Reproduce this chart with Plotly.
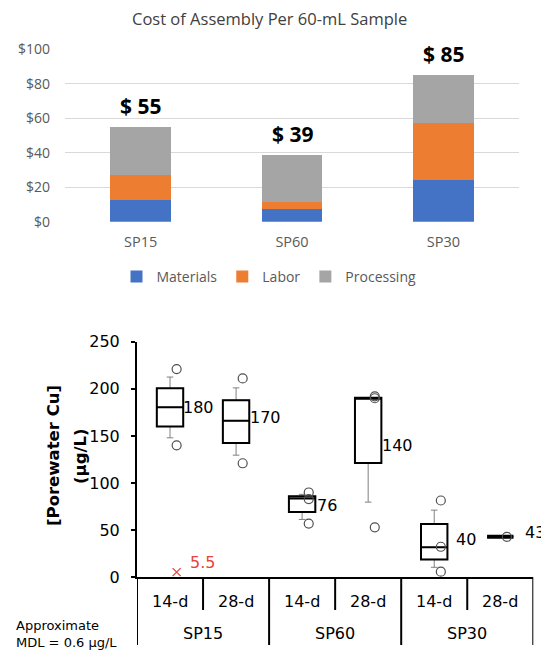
import plotly.graph_objects as go

# ---------------- data: top chart ----------------
cost_categories = ["SP15", "SP60", "SP30"]
materials = [12.6, 7.2, 24.0]
labor = [14.5, 4.2, 33.3]
processing = [28.0, 27.3, 27.6]
cost_ticks = [0, 20, 40, 60, 80, 100]

# ---------------- data: bottom chart ----------------
sampler = ["SP15", "SP60", "SP30"]
duration = ["14-d", "28-d"]
box_q1 = [160.0, 142.6, 69.2, 121.4, 19.0, 43.0]
box_median = [180.5, 166.0, 83.7, 190.6, 31.8, 43.0]
box_q3 = [200.5, 188.0, 86.0, 190.6, 56.5, 43.0]
box_low = [148.0, 129.6, 61.4, 79.8, 10.6, 43.0]
box_high = [212.5, 201.0, 88.0, 190.6, 71.3, 43.0]
points = [[221, 140], [211, 121], [90, 83, 57], [192, 190, 53], [81.5, 32.4, 6], [43]]
mean_labels = ["180", "170", "76", "140", "40", "43"]
mean_values = [180, 170, 76, 140, 40, 43]
mdl_value = 5.5
mdl_label = "5.5"

# page has an 8px body margin; lay out in window pixels
OFF = 8
W, H = 549 - OFF, 651 - OFF
def px_x(p):
    return (p - OFF) / W
def px_y(p):
    return 1 - (p - OFF) / H

fig = go.Figure()

# ---- top: stacked bars ----
colors = {"Materials": "#4472C4", "Labor": "#ED7D31", "Processing": "#A5A5A5"}
for name, vals in [("Materials", materials), ("Labor", labor), ("Processing", processing)]:
    fig.add_trace(go.Bar(x=cost_categories, y=vals, name=name, marker_color=colors[name],
                         marker_line_width=0, xaxis="x", yaxis="y"))

totals = [m + l + p for m, l, p in zip(materials, labor, processing)]
for c, t in zip(cost_categories, totals):
    fig.add_annotation(x=c, y=t, xref="x", yref="y", text=f"$ {round(t)}", showarrow=False,
                       yanchor="bottom", yshift=5,
                       font=dict(family="Open Sans", size=21, color="black", weight="bold"))

fig.add_annotation(x=px_x(269), y=px_y(18), xref="paper", yref="paper",
                   xanchor="center", yanchor="middle",
                   text="Cost of Assembly Per 60-mL Sample", showarrow=False,
                   font=dict(family="Open Sans", size=16.5, color="#404040"))

# ---- bottom: boxes ----
n = len(box_q1)
centers = [i + 0.5 for i in range(n)]
for i in range(n):
    flat = box_q1[i] == box_q3[i]
    fig.add_trace(go.Box(x=[centers[i]], q1=[box_q1[i]], median=[box_median[i]], q3=[box_q3[i]],
                         lowerfence=[box_low[i]], upperfence=[box_high[i]],
                         width=0.4, whiskerwidth=0.25, line=dict(color="#808080", width=1),
                         fillcolor="rgba(0,0,0,0)", boxpoints=False, showlegend=False,
                         hoverinfo="skip", xaxis="x2", yaxis="y2"))
    fig.add_trace(go.Box(x=[centers[i]], q1=[box_q1[i]], median=[box_median[i]], q3=[box_q3[i]],
                         lowerfence=[box_q1[i]], upperfence=[box_q3[i]],
                         width=0.4, whiskerwidth=0, line=dict(color="black", width=4 if flat else 2),
                         fillcolor="rgba(0,0,0,0)", boxpoints=False, showlegend=False,
                         hoverinfo="skip", xaxis="x2", yaxis="y2"))
    fig.add_trace(go.Scatter(x=[centers[i] + 0.1] * len(points[i]), y=points[i], mode="markers",
                             marker=dict(symbol="circle-open", size=9, color="#505050",
                                         line=dict(width=1.2)),
                             showlegend=False, hoverinfo="skip", xaxis="x2", yaxis="y2"))

label_gap_px = [-2, -1, 0, -1, 7, 10]
label_lift_px = [0, 0, 0, 0, 0, 4]
for i in range(n):
    fig.add_annotation(x=centers[i] + 0.2, y=mean_values[i], xref="x2", yref="y2",
                       text=mean_labels[i], showarrow=False, xanchor="left", yanchor="middle",
                       xshift=label_gap_px[i], yshift=label_lift_px[i],
                       font=dict(family="DejaVu Sans", size=16, color="black"))

fig.add_trace(go.Scatter(x=[centers[0] + 0.1], y=[mdl_value], mode="markers",
                         marker=dict(symbol="x-thin-open", size=8, color="#E8423A", line=dict(width=1.3)),
                         showlegend=False, hoverinfo="skip", xaxis="x2", yaxis="y2"))
fig.add_annotation(x=centers[0] + 0.1, y=mdl_value, xref="x2", yref="y2", text=mdl_label,
                   showarrow=False, xanchor="left", yanchor="middle", xshift=11, yshift=10,
                   font=dict(family="DejaVu Sans", size=16, color="#E8423A"))

# x category labels and dividers
y_sub = px_y(601)
y_grp = px_y(633)
for i in range(n):
    fig.add_annotation(x=centers[i], y=y_sub, xref="x2", yref="paper", text=duration[i % 2],
                       xanchor="center", yanchor="middle",
                       showarrow=False, font=dict(family="DejaVu Sans", size=16, color="black"))
for g in range(len(sampler)):
    fig.add_annotation(x=2 * g + 1, y=y_grp, xref="x2", yref="paper", text=sampler[g],
                       xanchor="center", yanchor="middle",
                       showarrow=False, font=dict(family="DejaVu Sans", size=16, color="black"))
for b in range(n + 1):
    big = b % 2 == 0
    fig.add_shape(type="line", x0=b, x1=b, xref="x2", yref="paper",
                  y0=px_y(577.3), y1=px_y(645 if big else 610),
                  line=dict(color="black", width=2))

fig.add_annotation(x=px_x(14), y=px_y(634), xref="paper", yref="paper",
                   text="Approximate<br>MDL = 0.6 µg/L", showarrow=False, xanchor="left",
                   yanchor="middle", align="left",
                   font=dict(family="DejaVu Sans", size=13, color="black"))

fig.add_annotation(x=px_x(53), y=px_y(456), xref="paper", yref="paper", text="[Porewater Cu]",
                   showarrow=False, textangle=-90, xanchor="center", yanchor="middle",
                   font=dict(family="DejaVu Sans", size=16.5, color="black", weight="bold"))
fig.add_annotation(x=px_x(80), y=px_y(456), xref="paper", yref="paper", text="(µg/L)",
                   showarrow=False, textangle=-90, xanchor="center", yanchor="middle",
                   font=dict(family="DejaVu Sans", size=16.5, color="black", weight="bold"))

fig.update_layout(
    width=W, height=H, margin=dict(l=0, r=0, t=0, b=0, autoexpand=False),
    paper_bgcolor="white", plot_bgcolor="white",
    barmode="stack", bargap=0.6, boxmode="overlay",
    showlegend=True,
    legend=dict(orientation="h", x=px_x(269), xanchor="center", y=px_y(277), yanchor="middle",
                font=dict(family="Open Sans", size=14, color="#595959"), itemwidth=30,
                traceorder="normal"),
    xaxis=dict(domain=[px_x(65), px_x(519)], anchor="y", type="category", automargin=False,
               showline=False, ticks="", ticklabelstandoff=10,
               tickfont=dict(family="Open Sans", size=14.5, color="#595959")),
    yaxis=dict(domain=[px_y(221.7), px_y(49.3)], anchor="x", range=[0, 100], tickvals=cost_ticks,
               ticktext=[f"${v}" for v in cost_ticks], automargin=False,
               showgrid=True, gridcolor="#D9D9D9", gridwidth=1, zeroline=False,
               showline=False, ticks="", ticklabelstandoff=14,
               tickfont=dict(family="Open Sans", size=14, color="#595959")),
    xaxis2=dict(domain=[px_x(137), px_x(533.3)], anchor="y2", range=[0, 6], showline=True,
                linecolor="black", linewidth=2, showticklabels=False, ticks="", showgrid=False,
                zeroline=False, automargin=False),
    yaxis2=dict(domain=[px_y(577.3), px_y(341.7)], anchor="x2", range=[0, 250], dtick=50,
                showline=True, linecolor="black", linewidth=2, ticks="outside", ticklen=4,
                tickwidth=2, tickcolor="black", showgrid=False, zeroline=False,
                ticklabelstandoff=8, automargin=False,
                tickfont=dict(family="DejaVu Sans", size=16, color="black")),
)

fig.write_html("out.html")
